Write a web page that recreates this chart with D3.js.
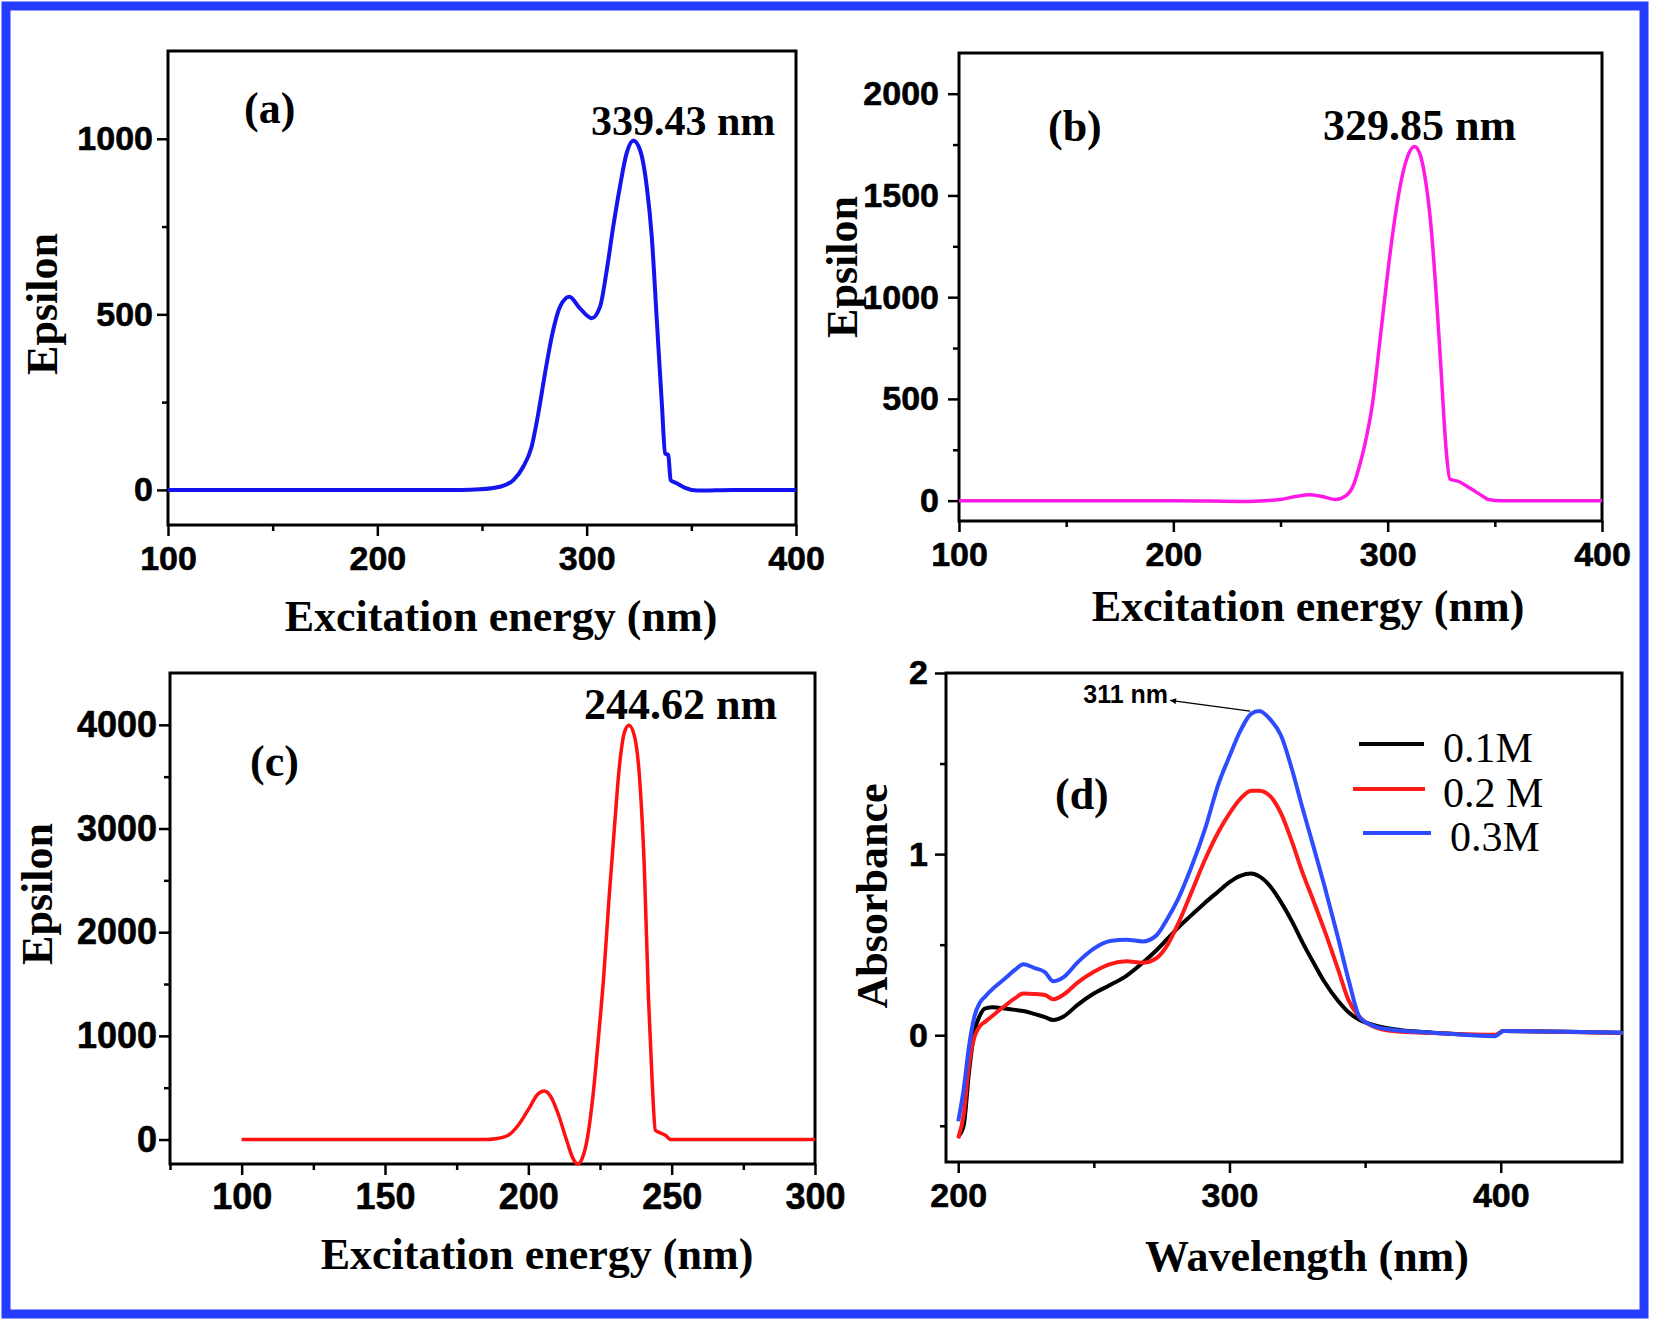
<!DOCTYPE html>
<html>
<head>
<meta charset="utf-8">
<script src="https://cdnjs.cloudflare.com/ajax/libs/d3/7.8.5/d3.min.js"></script>
<style>
  body { margin: 0; background: #fff; }
  svg { display: block; }
  .tick text { font-family: 'Liberation Sans', Arial, sans-serif; font-weight: bold; font-size: 34px; fill: #000; stroke: #000; stroke-width: 0.6; }
  .tick line { stroke: #000; stroke-width: 2.5; }
  .serif { font-family: 'Liberation Serif', 'Times New Roman', serif; fill: #000; }
</style>
</head>
<body>
<svg id="fig" width="1654" height="1321"></svg>
<script>
// panel (a)
var aX = [100, 150, 200, 240, 249, 258.6, 265, 269.7, 273.7, 276.9, 280.1, 283.3, 287.3, 291.7, 296.8, 302.4, 306.4, 309.6, 312.7, 315.9, 319.1, 322.3, 325.5, 328.7, 331.1, 333.5, 335.9, 337.5, 339, 340.1, 343, 347, 353, 370, 400];
var aY = [0, 0, 0, 0, 1.7, 9, 28, 66, 123, 218, 332, 436, 522, 550, 517, 489, 522, 626, 750, 864, 959, 995, 968, 864, 721, 484, 247, 104, 99, 28, 19, 6, -2, 0, 0];

// panel (b)
var bX = [100, 150, 200, 235, 250, 257, 263.4, 269.5, 275.7, 280.6, 284.3, 286.7, 289.2, 292.9, 296.6, 300.2, 303.9, 307.6, 310.8, 312.5, 315, 317.4, 319.9, 322.4, 324.8, 327.3, 329, 333.4, 338.3, 344.5, 346.9, 353, 400];
var bY = [0, 0, 0, -4, 6, 20, 29, 20, 6, 25, 83, 165, 269, 475, 806, 1136, 1426, 1632, 1725, 1740, 1705, 1591, 1384, 1054, 661, 248, 107, 93, 62, 21, 6, 0, 0];

// panel (c)
var cX = [100, 150, 185, 188.5, 193, 196.8, 200.5, 203.2, 205.6, 207.8, 210.6, 213.4, 215.8, 217.2, 218.9, 220.7, 222.6, 224.4, 226.3, 228.1, 230, 231.8, 233.6, 235.1, 237, 238.8, 240.5, 241.9, 243.2, 244.3, 245.6, 247.8, 249.7, 300];
var cY = [0, 0, 0, 8, 41, 150, 313, 435, 468, 415, 232, -12, -195, -236, -175, 28, 435, 964, 1575, 2307, 2999, 3609, 3935, 3996, 3894, 3487, 2592, 1371, 557, 90, 69, 41, 0, 0];

// panel (d)
var dX = [200, 202, 204, 206, 208, 210, 213, 217, 221, 224, 228, 232, 235, 239, 244, 250, 256, 262, 268, 273, 277, 281, 286, 291, 296, 300, 304, 308, 311, 315, 319, 323, 327, 331, 335, 340, 344, 348, 353, 360, 375, 398, 401, 445];
var d01 = [-0.56, -0.50, -0.20, 0.02, 0.11, 0.148, 0.154, 0.147, 0.14, 0.134, 0.118, 0.10, 0.084, 0.105, 0.168, 0.23, 0.277, 0.328, 0.40, 0.468, 0.53, 0.593, 0.663, 0.732, 0.795, 0.845, 0.88, 0.893, 0.877, 0.823, 0.735, 0.63, 0.51, 0.40, 0.295, 0.19, 0.125, 0.084, 0.057, 0.034, 0.014, 0.0, 0.023, 0.014];
var d02 = [-0.57, -0.44, -0.16, -0.01, 0.05, 0.075, 0.112, 0.16, 0.205, 0.23, 0.228, 0.222, 0.198, 0.226, 0.29, 0.35, 0.393, 0.408, 0.40, 0.425, 0.495, 0.613, 0.79, 0.97, 1.125, 1.225, 1.305, 1.35, 1.35, 1.32, 1.225, 1.07, 0.895, 0.74, 0.58, 0.365, 0.19, 0.10, 0.048, 0.023, 0.012, 0.002, 0.023, 0.012];
var d03 = [-0.475, -0.30, -0.06, 0.105, 0.18, 0.215, 0.26, 0.31, 0.362, 0.392, 0.372, 0.348, 0.298, 0.322, 0.402, 0.478, 0.52, 0.527, 0.518, 0.55, 0.64, 0.75, 0.93, 1.14, 1.39, 1.54, 1.68, 1.775, 1.79, 1.744, 1.655, 1.47, 1.25, 1.04, 0.825, 0.54, 0.30, 0.10, 0.052, 0.03, 0.014, -0.005, 0.023, 0.014];
var dNames = ['0.1M', '0.2 M', '0.3M'];
var dColors = ['#000000', '#ff1a1a', '#2d4bff'];

var svg = d3.select('#fig');

// outer blue border
svg.append('rect')
    .attr('x', 6).attr('y', 6)
    .attr('width', 1638).attr('height', 1308)
    .attr('fill', 'none')
    .attr('stroke', '#233cff')
    .attr('stroke-width', 9);

function zip(xs, ys) {
  return xs.map((v, i) => [v, ys[i]]);
}

function drawPanel(p) {
  var g = svg.append('g');
  var x = d3.scaleLinear().domain(p.xDomain).range([p.box[0], p.box[2]]);
  var y = d3.scaleLinear().domain(p.yDomain).range([p.box[3], p.box[1]]);

  // minor ticks
  g.append('g')
      .attr('transform', 'translate(0,' + p.box[3] + ')')
      .call(d3.axisBottom(x).tickValues(p.xMinor).tickSize(6).tickFormat(''))
      .call(a => a.select('.domain').remove());
  g.append('g')
      .attr('transform', 'translate(' + p.box[0] + ',0)')
      .call(d3.axisLeft(y).tickValues(p.yMinor).tickSize(6).tickFormat(''))
      .call(a => a.select('.domain').remove());

  // major ticks
  g.append('g')
      .attr('transform', 'translate(0,' + p.box[3] + ')')
      .call(d3.axisBottom(x).tickValues(p.xMajor).tickSize(11).tickFormat(d3.format('d')))
      .call(a => a.select('.domain').remove())
      .selectAll('text')
      .attr('y', 45)
      .attr('dy', 0)
      .style('font-size', p.tickFont + 'px');
  g.append('g')
      .attr('transform', 'translate(' + p.box[0] + ',0)')
      .call(d3.axisLeft(y).tickValues(p.yMajor).tickSize(11).tickPadding(p.yPad).tickFormat(d3.format('d')))
      .call(a => a.select('.domain').remove())
      .selectAll('text')
      .style('font-size', p.tickFont + 'px');

  // frame
  g.append('rect')
      .attr('x', p.box[0]).attr('y', p.box[1])
      .attr('width', p.box[2] - p.box[0])
      .attr('height', p.box[3] - p.box[1])
      .attr('fill', 'none')
      .attr('stroke', '#000')
      .attr('stroke-width', 3);

  var line = d3.line()
      .x(d => x(d[0]))
      .y(d => y(d[1]))
      .curve(d3.curveMonotoneX);

  g.selectAll('.curve')
    .data(p.series)
    .enter()
      .append('path')
      .classed('curve', true)
      .attr('fill', 'none')
      .attr('stroke', d => d.color)
      .attr('stroke-width', p.lineWidth)
      .attr('stroke-linejoin', 'round')
      .attr('d', d => line(d.points));

  // axis titles
  g.append('text')
      .classed('serif', true)
      .attr('x', p.xTitle[0]).attr('y', p.xTitle[1])
      .attr('text-anchor', 'middle')
      .attr('font-size', 44).attr('font-weight', 'bold')
      .text(p.xLabel);
  g.append('text')
      .classed('serif', true)
      .attr('transform', 'translate(' + p.yTitle[0] + ',' + p.yTitle[1] + ') rotate(-90)')
      .attr('text-anchor', 'middle')
      .attr('font-size', 44).attr('font-weight', 'bold')
      .text(p.yLabel);

  // panel letter and peak note
  g.append('text')
      .classed('serif', true)
      .attr('x', p.tag[0]).attr('y', p.tag[1])
      .attr('font-size', 44).attr('font-weight', 'bold')
      .text(p.tagText);
  if (p.peak) {
    g.append('text')
        .classed('serif', true)
        .attr('x', p.peak[0]).attr('y', p.peak[1])
        .attr('font-size', p.peak[2]).attr('font-weight', 'bold')
        .text(p.peakText);
  }
  return {x: x, y: y, g: g};
}

drawPanel({
  box: [168, 51, 796, 525],
  xDomain: [100, 400], yDomain: [-100, 1250],
  xMajor: [100, 200, 300, 400], xMinor: [150, 250, 350],
  yMajor: [0, 500, 1000], yMinor: [250, 750],
  yPad: 4, tickFont: 34, lineWidth: 4,
  series: [{color: '#1414f0', points: zip(aX, aY)}],
  xLabel: 'Excitation energy (nm)', xTitle: [501, 631],
  yLabel: 'Epsilon', yTitle: [57, 304],
  tagText: '(a)', tag: [244, 123],
  peakText: '339.43 nm', peak: [591, 135, 42]
});

drawPanel({
  box: [959, 53, 1602, 521],
  xDomain: [100, 400], yDomain: [-100, 2200],
  xMajor: [100, 200, 300, 400], xMinor: [150, 250, 350],
  yMajor: [0, 500, 1000, 1500, 2000], yMinor: [250, 750, 1250, 1750],
  yPad: 9, tickFont: 34, lineWidth: 3.5,
  series: [{color: '#ff19e6', points: zip(bX, bY)}],
  xLabel: 'Excitation energy (nm)', xTitle: [1308, 621],
  yLabel: 'Epsilon', yTitle: [857, 267],
  tagText: '(b)', tag: [1048, 141],
  peakText: '329.85 nm', peak: [1323, 140, 44]
});

drawPanel({
  box: [170, 673, 815, 1164],
  xDomain: [75, 300], yDomain: [-236, 4500],
  xMajor: [100, 150, 200, 250, 300], xMinor: [75, 125, 175, 225, 275],
  yMajor: [0, 1000, 2000, 3000, 4000], yMinor: [500, 1500, 2500, 3500],
  yPad: 2, tickFont: 36, lineWidth: 3.5,
  series: [{color: '#ff1010', points: zip(cX, cY)}],
  xLabel: 'Excitation energy (nm)', xTitle: [537, 1269],
  yLabel: 'Epsilon', yTitle: [52, 894],
  tagText: '(c)', tag: [250, 776],
  peakText: '244.62 nm', peak: [584, 719, 44]
});

var pd = drawPanel({
  box: [946, 673, 1622, 1162],
  xDomain: [195.5, 444.7], yDomain: [-0.7, 2],
  xMajor: [200, 300, 400], xMinor: [250, 350],
  yMajor: [0, 1, 2], yMinor: [-0.5, 0.5, 1.5],
  yPad: 7, tickFont: 34, lineWidth: 4,
  series: [d01, d02, d03].map((s, i) => ({color: dColors[i], points: zip(dX, s)})),
  xLabel: 'Wavelength (nm)', xTitle: [1307, 1271],
  yLabel: 'Absorbance', yTitle: [887, 896],
  tagText: '(d)', tag: [1055, 809]
});

// legend for (d)
var legendLines = [[1359, 1424, 744], [1353, 1425, 789], [1363, 1431, 833]];
var legendText = [[1443, 762], [1443, 807], [1450, 851]];
dNames.forEach(function(name, i) {
  pd.g.append('line')
      .attr('x1', legendLines[i][0]).attr('x2', legendLines[i][1])
      .attr('y1', legendLines[i][2]).attr('y2', legendLines[i][2])
      .attr('stroke', dColors[i])
      .attr('stroke-width', 4);
  pd.g.append('text')
      .classed('serif', true)
      .attr('x', legendText[i][0]).attr('y', legendText[i][1])
      .attr('font-size', 42)
      .text(name);
});

// arrow to the 0.3M peak
svg.append('defs').append('marker')
    .attr('id', 'arrow')
    .attr('viewBox', '0 0 10 10')
    .attr('refX', 10).attr('refY', 5)
    .attr('markerWidth', 9).attr('markerHeight', 6)
    .attr('markerUnits', 'userSpaceOnUse')
    .attr('orient', 'auto')
  .append('path')
    .attr('d', 'M0,0 L10,5 L0,10 Z')
    .attr('fill', '#000');

pd.g.append('line')
    .attr('x1', pd.x(307.6)).attr('y1', pd.y(1.79))
    .attr('x2', pd.x(278.1)).attr('y2', pd.y(1.849))
    .attr('stroke', '#000')
    .attr('stroke-width', 1.3)
    .attr('marker-end', 'url(#arrow)');

pd.g.append('text')
    .attr('x', pd.x(278.1) - 2).attr('y', pd.y(1.849) + 3)
    .attr('text-anchor', 'end')
    .attr('font-family', "'Liberation Sans', Arial, sans-serif")
    .attr('font-weight', 'bold')
    .attr('font-size', 25)
    .text('311 nm');
</script>
</body>
</html>
